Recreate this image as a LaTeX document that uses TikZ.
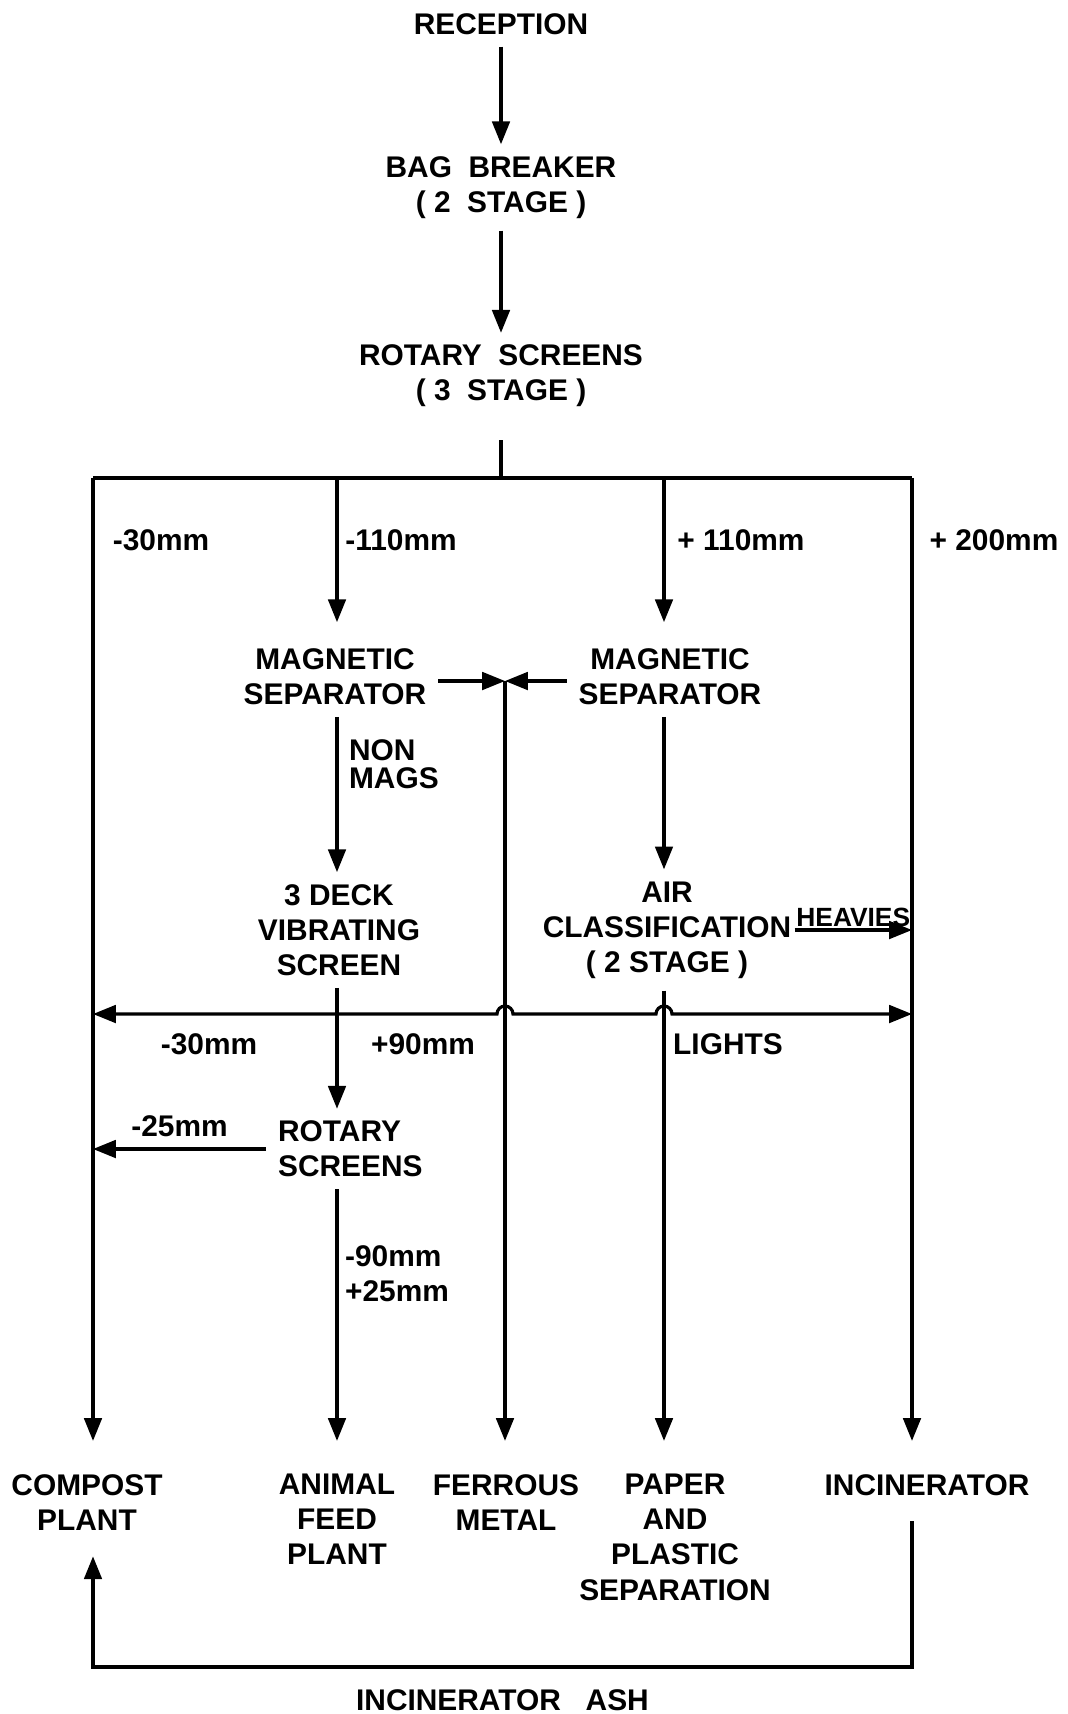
\documentclass[tikz,border=0pt]{standalone}
\usepackage{fontspec}
\setmainfont{Liberation Sans}
\usetikzlibrary{arrows.meta, positioning}

\begin{document}
\begin{tikzpicture}[>={Triangle[length=6.5pt, width=5pt]}, line width=0.9pt,
  lbl/.style={font=\bfseries\fontsize{8.5}{10}\selectfont, align=center, inner sep=3pt},
  dim/.style={font=\bfseries\fontsize{8.5}{10}\selectfont, inner sep=1pt}]
\useasboundingbox (0,0) rectangle (10.67,-17.14);
% feed line
\node[lbl] (rec) at (5.01,-0.24) {RECEPTION};
\node[lbl] (bag) at (5.01,-1.875) {BAG\ \ BREAKER\\( 2\ \ STAGE )};
\node[lbl] (rs1) at (5.01,-3.76) {ROTARY\ \ SCREENS\\( 3\ \ STAGE )};
\draw[->] (rec) -- (bag);
\draw[->] (bag) -- (rs1);
% split into four fractions
\coordinate (tl) at (0.93,-4.78);
\coordinate (tb) at (3.37,-4.78);
\coordinate (split) at (5.01,-4.78);
\coordinate (td) at (6.64,-4.78);
\coordinate (tr) at (9.12,-4.78);
\draw[shorten <=6pt] (rs1.south) -- (split);
\draw (tl) -- (tr);
\node[dim] (d30) at (1.61,-5.40) {-30mm};
\node[dim] (d110) at (4.01,-5.40) {-110mm};
\node[dim] (p110) at (7.41,-5.40) {+ 110mm};
\node[dim] (p200) at (9.94,-5.40) {+ 200mm};
\node[lbl] (mag1) at (3.35,-6.765) {MAGNETIC\\SEPARATOR};
\node[lbl] (mag2) at (6.70,-6.765) {MAGNETIC\\SEPARATOR};
\draw[->, shorten >=4pt] (tb) -- (tb |- mag1.north);
\draw[->, shorten >=4pt] (td) -- (td |- mag2.north);
% ferrous
\coordinate (fe) at (5.05,-6.81);
\draw[->] (mag1.east |- fe) -- (fe);
\draw[->] (mag2.west |- fe) -- (fe);
\node[dim, align=left, anchor=west] (nonmag) at (3.44,-7.64) {NON\\[-2pt]MAGS};
\node[lbl] (vib) at (3.39,-9.30) {3 DECK\\VIBRATING\\SCREEN};
\node[lbl, inner xsep=0.5pt] (air) at (6.67,-9.30) {AIR\\CLASSIFICATION\\( 2 STAGE )};
\draw[->] (tb |- mag1.south) -- (tb |- vib.north);
\draw[->] (td |- mag2.south) -- (td |- air.north);
\draw[->] (air.east) -- (air.east -| tr)
  node[midway, above, dim, inner sep=0.5pt, font=\bfseries\fontsize{7.5}{9}\selectfont] (heavy) {HEAVIES};
% screen overflow bar, hopping the ferrous and lights lines
\coordinate (ml) at (0.93,-10.14);
\coordinate (hop1) at (4.97,-10.14);
\coordinate (hop2) at (6.56,-10.14);
\coordinate (mr) at (9.12,-10.14);
\draw[<->] (ml) -- (hop1) arc[start angle=180, end angle=0, radius=0.08]
  -- (hop2) arc[start angle=180, end angle=0, radius=0.08] -- (mr);
\node[dim] (m30) at (2.09,-10.44) {-30mm};
\node[dim] (p90) at (4.23,-10.44) {+90mm};
\node[dim] (lights) at (7.28,-10.44) {LIGHTS};
\node[lbl, align=left, anchor=west] (rs2) at (2.66,-11.49) {ROTARY\\SCREENS};
\draw[->] (tb |- vib.south) -- (tb |- rs2.north);
\draw[->] (rs2.west) -- (rs2.west -| tl) node[midway, above=2pt, dim] (d25) {-25mm};
\node[dim, align=left, anchor=west] (d90) at (3.40,-12.735) {-90mm\\+25mm};
% outlets
\node[lbl, anchor=north] (compost) at (0.87,-14.62) {COMPOST\\PLANT};
\node[lbl, anchor=north] (animal) at (3.37,-14.62) {ANIMAL\\FEED\\PLANT};
\node[lbl, anchor=north] (ferrous) at (5.06,-14.62) {FERROUS\\METAL};
\node[lbl, anchor=north] (paper) at (6.75,-14.62) {PAPER\\AND\\PLASTIC\\SEPARATION};
\node[lbl, anchor=north] (incin) at (9.27,-14.62) {INCINERATOR};
\draw[->, shorten >=6pt] (tl) -- (tl |- compost.north);
\draw[->, shorten >=6pt] (tb |- rs2.south) -- (tb |- animal.north);
\draw[->, shorten >=6pt] (fe) -- (fe |- ferrous.north);
\draw[->, shorten >=6pt] (td |- air.south) -- (td |- paper.north);
\draw[->, shorten >=6pt] (tr) -- (tr |- incin.north);
% ash return
\coordinate (ash) at (5.04,-16.67);
\draw[->, shorten <=4pt, shorten >=4pt] (tr |- incin.south) -- (tr |- ash)
  -- node[below=3pt, lbl] (ashlbl) {INCINERATOR\ \ \ ASH} (tl |- ash) -- (tl |- compost.south);
\end{tikzpicture}
\end{document}
